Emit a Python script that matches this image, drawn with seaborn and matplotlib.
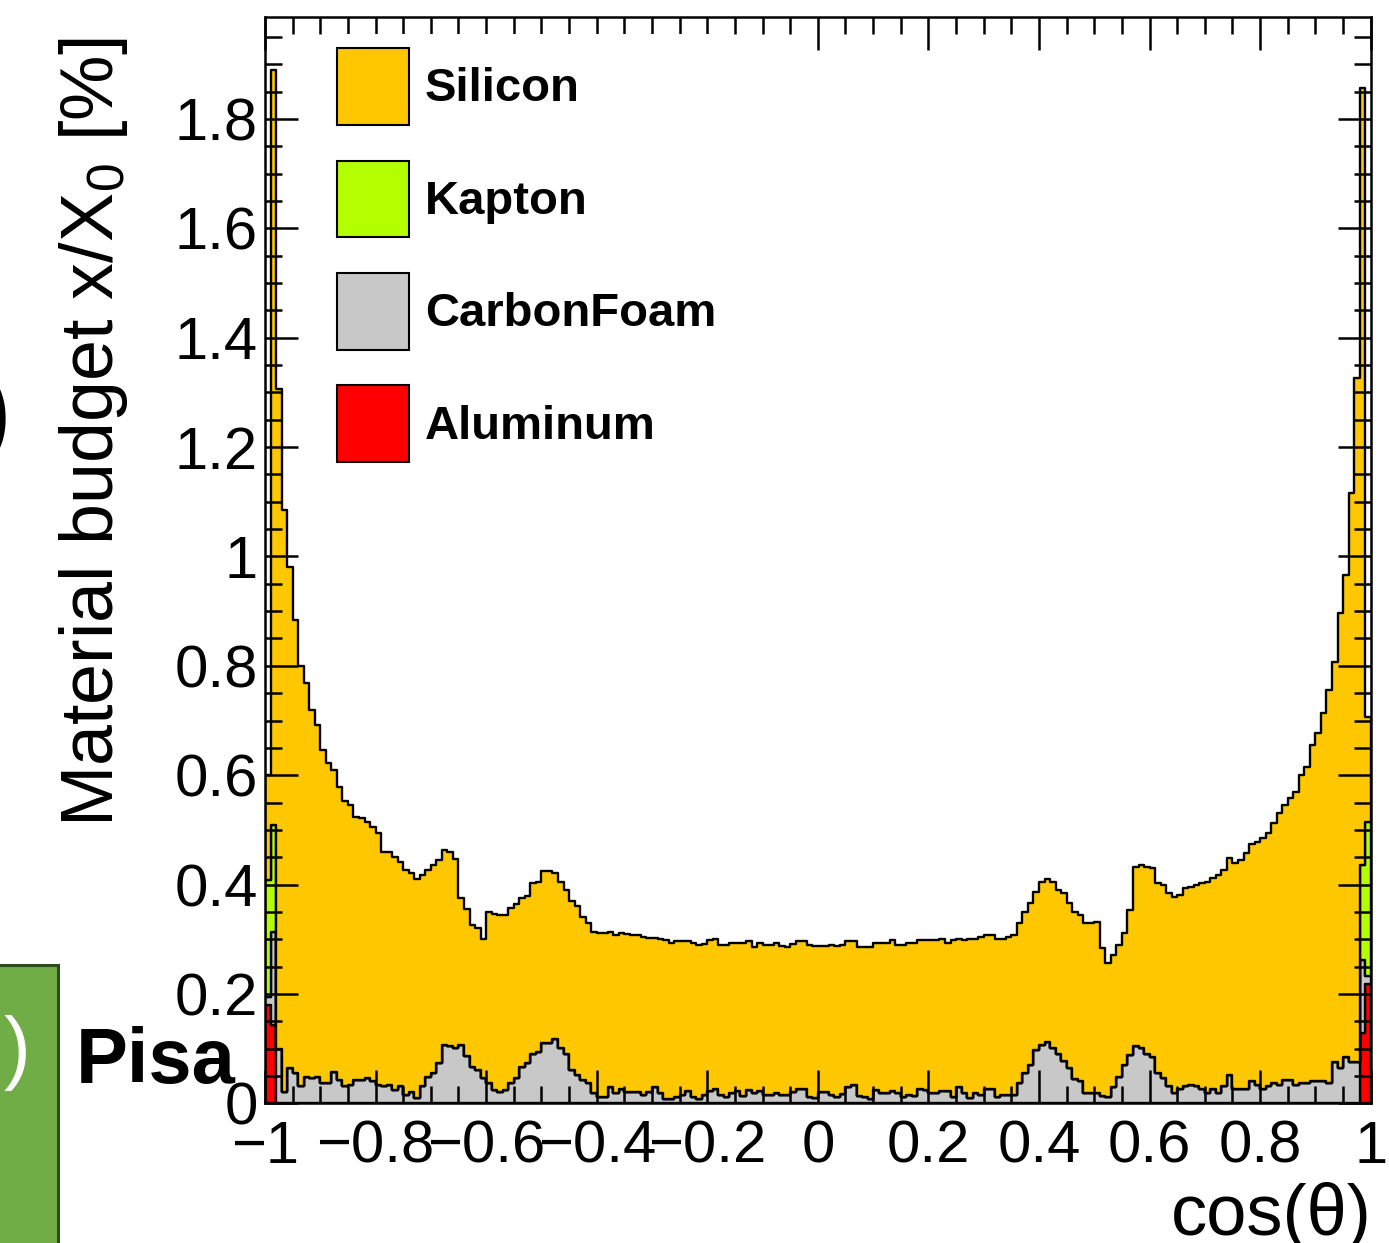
import numpy as np
import pandas as pd
import matplotlib
matplotlib.use("Agg")
import matplotlib.pyplot as plt
import seaborn as sns
from matplotlib.patches import Patch, Rectangle
from matplotlib.ticker import FixedLocator, MultipleLocator, FuncFormatter

# ---------------- data ----------------
materials = ["Silicon", "Kapton", "CarbonFoam", "Aluminum"]
colors = ["#FFC700", "#B3FF00", "#C8C8C8", "#FF0000"]
x_ticks = [-1.0, -0.8, -0.6, -0.4, -0.2, 0.0, 0.2, 0.4, 0.6, 0.8, 1.0]
y_ticks = [0.0, 0.2, 0.4, 0.6, 0.8, 1.0, 1.2, 1.4, 1.6, 1.8]

# top outline of the whole stack (x/X0 in %), 200 bins of width 0.01 from -1 to 1
total_top = [
    0.600, 1.889, 1.306, 1.085, 0.980, 0.884, 0.800, 0.768, 0.719, 0.692,
    0.646, 0.622, 0.610, 0.579, 0.552, 0.546, 0.524, 0.521, 0.515, 0.506,
    0.494, 0.460, 0.460, 0.451, 0.442, 0.427, 0.421, 0.410, 0.418, 0.427,
    0.436, 0.445, 0.463, 0.460, 0.446, 0.375, 0.356, 0.326, 0.320, 0.300,
    0.350, 0.347, 0.344, 0.344, 0.358, 0.365, 0.375, 0.380, 0.402, 0.405,
    0.424, 0.424, 0.421, 0.405, 0.390, 0.370, 0.360, 0.341, 0.329, 0.314,
    0.311, 0.311, 0.314, 0.308, 0.311, 0.309, 0.308, 0.308, 0.305, 0.303,
    0.303, 0.300, 0.298, 0.293, 0.296, 0.296, 0.296, 0.293, 0.290, 0.292,
    0.298, 0.300, 0.290, 0.290, 0.293, 0.293, 0.293, 0.296, 0.286, 0.293,
    0.290, 0.290, 0.293, 0.288, 0.286, 0.291, 0.296, 0.296, 0.290, 0.287,
    0.287, 0.287, 0.290, 0.288, 0.289, 0.297, 0.296, 0.285, 0.285, 0.285,
    0.293, 0.293, 0.293, 0.298, 0.290, 0.290, 0.293, 0.293, 0.299, 0.299,
    0.299, 0.299, 0.300, 0.293, 0.298, 0.300, 0.298, 0.301, 0.301, 0.304,
    0.307, 0.307, 0.300, 0.300, 0.304, 0.308, 0.329, 0.350, 0.366, 0.387,
    0.404, 0.411, 0.405, 0.390, 0.384, 0.366, 0.350, 0.344, 0.329, 0.329,
    0.332, 0.284, 0.256, 0.271, 0.290, 0.311, 0.353, 0.433, 0.436, 0.433,
    0.430, 0.403, 0.399, 0.384, 0.378, 0.381, 0.393, 0.396, 0.399, 0.403,
    0.405, 0.412, 0.418, 0.427, 0.448, 0.439, 0.445, 0.457, 0.475, 0.478,
    0.486, 0.494, 0.512, 0.530, 0.545, 0.558, 0.570, 0.600, 0.615, 0.655,
    0.677, 0.713, 0.756, 0.807, 0.896, 0.966, 1.116, 1.326, 1.857, 0.707,
]

carbon_foam = [
    0.015, 0.171, 0.100, 0.021, 0.064, 0.055, 0.031, 0.049, 0.046, 0.049,
    0.037, 0.037, 0.058, 0.043, 0.031, 0.034, 0.043, 0.043, 0.046, 0.040,
    0.034, 0.031, 0.034, 0.024, 0.031, 0.015, 0.020, 0.009, 0.031, 0.049,
    0.056, 0.073, 0.107, 0.104, 0.101, 0.107, 0.087, 0.067, 0.061, 0.046,
    0.037, 0.024, 0.020, 0.024, 0.037, 0.046, 0.067, 0.073, 0.091, 0.094,
    0.110, 0.110, 0.117, 0.101, 0.091, 0.060, 0.052, 0.043, 0.038, 0.018,
    0.012, 0.012, 0.029, 0.018, 0.027, 0.021, 0.020, 0.020, 0.015, 0.020,
    0.029, 0.018, 0.008, 0.008, 0.011, 0.015, 0.023, 0.012, 0.008, 0.015,
    0.023, 0.026, 0.015, 0.012, 0.018, 0.023, 0.013, 0.024, 0.018, 0.023,
    0.015, 0.015, 0.018, 0.015, 0.015, 0.020, 0.026, 0.026, 0.012, 0.009,
    0.021, 0.021, 0.015, 0.012, 0.017, 0.029, 0.033, 0.013, 0.011, 0.007,
    0.024, 0.018, 0.018, 0.023, 0.018, 0.012, 0.015, 0.013, 0.026, 0.024,
    0.019, 0.019, 0.023, 0.023, 0.012, 0.030, 0.018, 0.009, 0.018, 0.016,
    0.027, 0.027, 0.012, 0.015, 0.015, 0.015, 0.037, 0.056, 0.070, 0.098,
    0.107, 0.113, 0.102, 0.091, 0.077, 0.064, 0.044, 0.040, 0.019, 0.019,
    0.018, 0.013, 0.011, 0.030, 0.049, 0.070, 0.088, 0.104, 0.101, 0.091,
    0.085, 0.055, 0.046, 0.031, 0.018, 0.027, 0.031, 0.034, 0.031, 0.027,
    0.018, 0.027, 0.018, 0.031, 0.052, 0.027, 0.027, 0.027, 0.040, 0.034,
    0.027, 0.031, 0.037, 0.034, 0.043, 0.043, 0.034, 0.037, 0.037, 0.040,
    0.040, 0.040, 0.037, 0.076, 0.064, 0.085, 0.076, 0.076, 0.134, 0.013,
]

edge_bins = [0, 1, 198, 199]
kapton_edge = [0.213, 0.195, 0.174, 0.283]
aluminum_edge = [0.180, 0.143, 0.128, 0.219]

# ---------------- table for seaborn ----------------
n_bins = 200
edges = np.linspace(-1.0, 1.0, n_bins + 1)
centers = 0.5 * (edges[:-1] + edges[1:])
kapton = np.zeros(n_bins)
kapton[edge_bins] = kapton_edge
aluminum = np.zeros(n_bins)
aluminum[edge_bins] = aluminum_edge
cfoam = np.array(carbon_foam)
silicon = np.array(total_top) - cfoam - kapton - aluminum

series = {"Silicon": silicon, "Kapton": kapton, "CarbonFoam": cfoam, "Aluminum": aluminum}
df = pd.concat(
    [pd.DataFrame({"cos": centers, "w": series[m], "material": m}) for m in materials],
    ignore_index=True,
)

# ---------------- style ----------------
sns.set_style("ticks")
plt.rcParams["font.family"] = ["Liberation Sans", "DejaVu Sans"]
plt.rcParams["text.color"] = "black"
plt.rcParams["mathtext.fontset"] = "custom"
plt.rcParams["mathtext.rm"] = "Liberation Sans"
plt.rcParams["mathtext.it"] = "Liberation Sans:italic"

W, H = 1389, 1243
fig = plt.figure(figsize=(W / 100, H / 100), dpi=100)
fig.patch.set_facecolor("white")

ax_l, ax_r, ax_t, ax_b = 265.0, 1370.7, 17.3, 1103.3
ax = fig.add_axes([ax_l / W, (H - ax_b) / H, (ax_r - ax_l) / W, (ax_b - ax_t) / H])

sns.histplot(
    data=df, x="cos", weights="w", hue="material", hue_order=materials,
    palette=colors, bins=n_bins, binrange=(-1.0, 1.0), multiple="stack",
    element="step", fill=True, alpha=1.0, edgecolor="black", linewidth=1.7,
    legend=False, ax=ax,
)

ax.set_xlim(-1, 1)
ax.set_ylim(0, 1.986)
ax.set_xlabel("")
ax.set_ylabel("")
ax.set_axisbelow(False)


def fmt(v, pos):
    s = "%g" % round(v, 2)
    if s == "-0":
        s = "0"
    return s.replace("-", "\u2212")


ax.xaxis.set_major_locator(FixedLocator(x_ticks))
ax.xaxis.set_minor_locator(MultipleLocator(0.05))
ax.yaxis.set_major_locator(FixedLocator(y_ticks))
ax.yaxis.set_minor_locator(MultipleLocator(0.05))
ax.xaxis.set_major_formatter(FuncFormatter(fmt))
ax.yaxis.set_major_formatter(FuncFormatter(fmt))

ax.tick_params(which="both", direction="in", top=True, right=True,
               width=1.8, color="black")
ax.tick_params(which="major", length=24)
ax.tick_params(which="minor", length=12.5)
ax.tick_params(axis="both", which="major", labelsize=43, labelcolor="black")
ax.tick_params(axis="x", which="major", pad=12)
ax.tick_params(axis="y", which="major", pad=5)
for s in ax.spines.values():
    s.set_visible(True)
    s.set_linewidth(1.8)
    s.set_color("black")
    s.set_zorder(3)

# legend
handles = [Patch(facecolor=c, edgecolor="black", linewidth=1.5) for c in colors]
leg = ax.legend(
    handles, materials, loc="upper left",
    bbox_to_anchor=((323 - ax_l) / (ax_r - ax_l), (ax_b - 34) / (ax_b - ax_t)),
    borderaxespad=0.0, borderpad=0.3, handlelength=1.52, handleheight=2.13,
    labelspacing=0.75, handletextpad=0.34, frameon=True, fancybox=False,
    framealpha=1.0, prop={"size": 34, "weight": "bold"},
)
leg.get_frame().set_facecolor("white")
leg.get_frame().set_edgecolor("none")
leg.set_zorder(5)
for t in leg.get_texts():
    t.set_color("black")

# axis titles
fig.text(93 / W, 1 - 38 / H, "Material budget x/X$_{\\mathregular{0}}$ [%]",
         rotation=90, ha="center", va="top", fontsize=53, color="black")
fig.text(1372 / W, 8 / H, "cos(\u03b8)", ha="right", va="baseline", fontsize=52,
         color="black")

# cropped slide elements around the chart
fig.text(12 / W, 1 - 418 / H, ")", ha="right", va="center", fontsize=76, color="black")
fig.patches.append(Rectangle((-10 / W, -10 / H), 68 / W, (H - 965 + 10) / H,
                             transform=fig.transFigure, facecolor="#70AD47",
                             edgecolor="#2F4A1E", linewidth=2.2, zorder=10))
fig.text(17 / W, 1 - 1053 / H, ")", ha="center", va="center", fontsize=58,
         color="white", zorder=11)
fig.text(76 / W, (H - 1083) / H, "Pisa", ha="left", va="baseline", fontsize=56,
         fontweight="bold", color="black", zorder=11)

fig.savefig("out.png", dpi=100, facecolor="white")
